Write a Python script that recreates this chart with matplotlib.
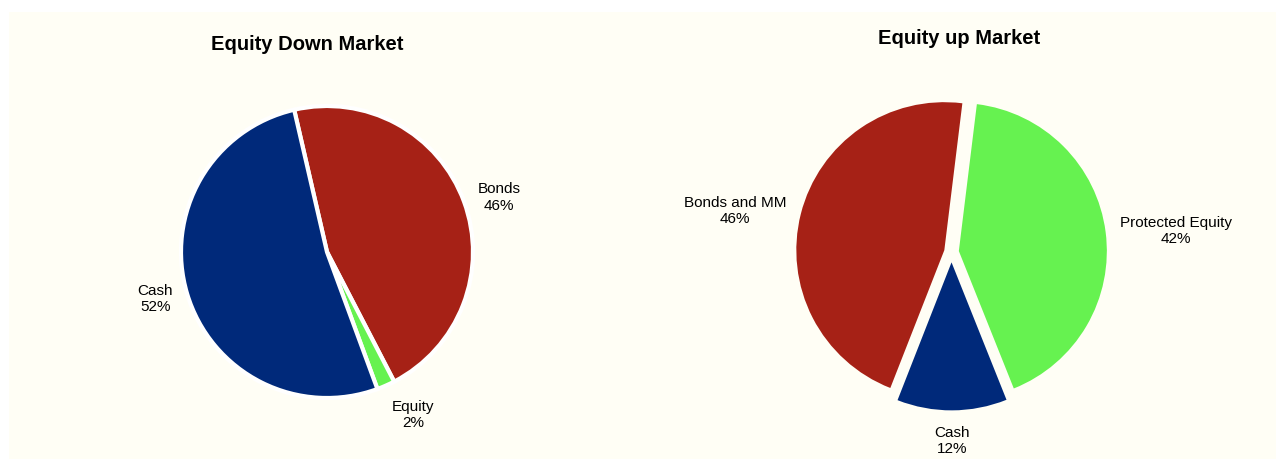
import matplotlib.pyplot as plt
from matplotlib.patches import Rectangle
import numpy as np

plt.rcParams['font.family'] = ['Liberation Sans', 'DejaVu Sans']

# ----------------------------- data -----------------------------
DOWN_TITLE = "Equity Down Market"
DOWN_NAMES = ["Bonds", "Equity", "Cash"]
DOWN_VALUES = [46, 2, 52]

UP_TITLE = "Equity up Market"
UP_NAMES = ["Bonds and MM", "Cash", "Protected Equity"]
UP_VALUES = [46, 12, 42]

NAVY = "#00297A"
RED = "#A62116"
GREEN = "#66F250"
CREAM = "#FFFEF5"

DOWN_COLORS = [RED, GREEN, NAVY]
UP_COLORS = [RED, NAVY, GREEN]

W, H = 1276, 460


def pie_axes(fig, cx, cy, r, half_w, half_h):
    """Axes centred at pixel (cx, cy from top), 1 data unit = r pixels."""
    ax = fig.add_axes([(cx - half_w) / W, (H - cy - half_h) / H,
                       2 * half_w / W, 2 * half_h / H])
    return ax, half_w / r, half_h / r


def draw_pie(ax, lim_x, lim_y, names, values, colors, startangle, counterclock,
             explode=None, lw=0.0, labeldistance=1.1):
    labels = [f"{n}\n{v}%" for n, v in zip(names, values)]
    wedges, texts = ax.pie(values, labels=labels, colors=colors,
                           startangle=startangle, counterclock=counterclock,
                           explode=explode, labeldistance=labeldistance,
                           wedgeprops=dict(edgecolor="white", linewidth=lw),
                           textprops=dict(fontsize=11, multialignment="center",
                                          color="black"))
    for w, t in zip(wedges, texts):
        mid = np.deg2rad((w.theta1 + w.theta2) / 2)
        if abs(np.cos(mid)) < 0.2:
            t.set_ha("center")
        if np.sin(mid) < -0.85:
            t.set_va("top")
    ax.set_xlim(-lim_x, lim_x)
    ax.set_ylim(-lim_y, lim_y)
    ax.set_aspect("equal")
    ax.axis("off")


fig = plt.figure(figsize=(W / 100, H / 100), dpi=100, facecolor="white")
fig.patches.append(Rectangle((9 / W, 0), 1 - 9 / W, 1 - 13 / H,
                             transform=fig.transFigure, facecolor=CREAM,
                             edgecolor="none", zorder=-10))

ax1, lx, ly = pie_axes(fig, 327, 253, 146, 240, 200)
draw_pie(ax1, lx, ly, DOWN_NAMES, DOWN_VALUES, DOWN_COLORS,
         startangle=103, counterclock=False, lw=3.0, labeldistance=1.1)

ax2, lx, ly = pie_axes(fig, 951.5, 253, 148, 240, 200)
draw_pie(ax2, lx, ly, UP_NAMES, UP_VALUES, UP_COLORS,
         startangle=83, counterclock=True, explode=[0.05, 0.07, 0.05],
         lw=0.0, labeldistance=1.1)

fig.text(307 / W, 1 - 45 / H, DOWN_TITLE, ha="center", va="center",
         fontsize=14.5, fontweight="bold")
fig.text(959 / W, 1 - 39 / H, UP_TITLE, ha="center", va="center",
         fontsize=14.5, fontweight="bold")

fig.savefig("out.png", dpi=100, facecolor=fig.get_facecolor())
